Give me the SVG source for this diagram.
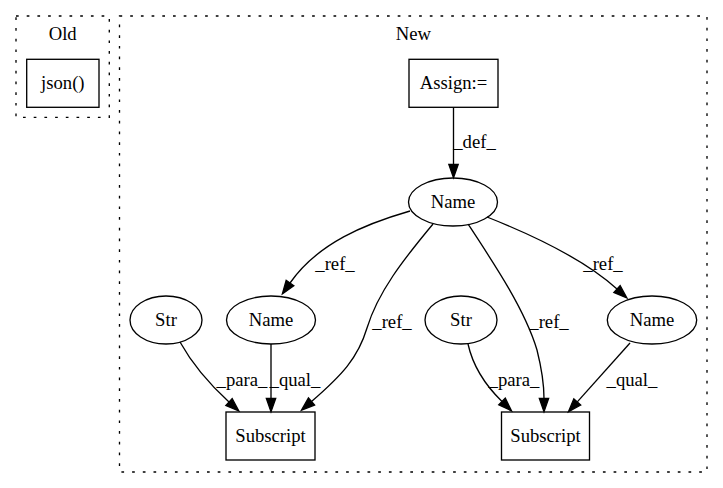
<svg xmlns="http://www.w3.org/2000/svg" width="723" height="488" viewBox="0 0 723 488" font-family="'Liberation Serif', 'Times New Roman', Times, serif" font-size="18.67">
  <style>
    .cluster { fill: none; stroke: #000; stroke-width: 1.33; stroke-dasharray: 2.7 8; }
    .node { fill: none; stroke: #000; stroke-width: 1.33; }
    .edge { fill: none; stroke: #000; stroke-width: 1.33; }
    text { font-family: 'Liberation Serif', 'Times New Roman', Times, serif; font-size: 18.67px; fill: #000; text-anchor: middle; }
  </style>
  <defs>
    <marker id="arrow" markerUnits="userSpaceOnUse" markerWidth="14" markerHeight="10" refX="0" refY="4.67" orient="auto" overflow="visible">
      <path d="M0,0 L13.3,4.67 L0,9.33 Z" fill="#000" stroke="#000" stroke-width="1.33"/>
    </marker>
  </defs>
  <rect width="723" height="488" fill="#fff"/>

  <!-- clusters -->
  <g id="cluster_old">
    <rect class="cluster" x="16" y="16" width="93.3" height="101.3"/>
    <text x="62.7" y="39.5">Old</text>
  </g>
  <g id="cluster_new">
    <rect class="cluster" x="119.5" y="16" width="587.5" height="456"/>
    <text x="413.3" y="39.5">New</text>
  </g>

  <!-- nodes -->
  <g id="json">
    <rect class="node" x="26.7" y="59.3" width="72.3" height="48"/>
    <text x="62.8" y="89">json()</text>
  </g>
  <g id="assign">
    <rect class="node" x="409" y="59.3" width="89" height="48"/>
    <text x="453.5" y="89">Assign:=</text>
  </g>
  <g id="name_top">
    <ellipse class="node" cx="453" cy="202" rx="44.5" ry="24"/>
    <text x="453" y="208">Name</text>
  </g>
  <g id="str_left">
    <ellipse class="node" cx="166" cy="320" rx="36" ry="24"/>
    <text x="166" y="326">Str</text>
  </g>
  <g id="name_left">
    <ellipse class="node" cx="271" cy="320" rx="44.5" ry="24"/>
    <text x="271" y="326">Name</text>
  </g>
  <g id="str_right">
    <ellipse class="node" cx="461" cy="320" rx="36" ry="24"/>
    <text x="461" y="326">Str</text>
  </g>
  <g id="name_right">
    <ellipse class="node" cx="652" cy="320" rx="44.7" ry="24"/>
    <text x="652" y="326">Name</text>
  </g>
  <g id="subscript_left">
    <rect class="node" x="226" y="412" width="89" height="48"/>
    <text x="270.5" y="442">Subscript</text>
  </g>
  <g id="subscript_right">
    <rect class="node" x="501.5" y="412" width="88" height="48"/>
    <text x="545.5" y="442">Subscript</text>
  </g>

  <!-- connectors -->
  <g id="edges">
    <path class="edge" marker-end="url(#arrow)" d="M453.5,107.3 L453.5,164.5"/>
    <text x="474.5" y="148">_def_</text>

    <path class="edge" marker-end="url(#arrow)" d="M410,211 C365,224 318,243 290,283"/>
    <text x="335" y="270">_ref_</text>

    <path class="edge" marker-end="url(#arrow)" d="M433,224 C403,260 378,292 367,328 C358,358 342,375 311.5,401.5"/>
    <text x="392" y="328">_ref_</text>

    <path class="edge" marker-end="url(#arrow)" d="M468,224 C495,265 525,310 537,350 C542,370 544,385 544,398.4"/>
    <text x="549" y="328">_ref_</text>

    <path class="edge" marker-end="url(#arrow)" d="M487,217 C530,234 585,260 617,289"/>
    <text x="603" y="270">_ref_</text>

    <path class="edge" marker-end="url(#arrow)" d="M630,343 L577.3,401.9"/>
    <text x="632" y="386">_qual_</text>

    <path class="edge" marker-end="url(#arrow)" d="M468,344 C472,362 482,382 502,401.5"/>
    <text x="514" y="386">_para_</text>

    <path class="edge" marker-end="url(#arrow)" d="M271,344 L271,398.5"/>
    <text x="295" y="386">_qual_</text>

    <path class="edge" marker-end="url(#arrow)" d="M180,342 C190,360 205,380 229,402"/>
    <text x="242" y="386">_para_</text>
  </g>
</svg>
